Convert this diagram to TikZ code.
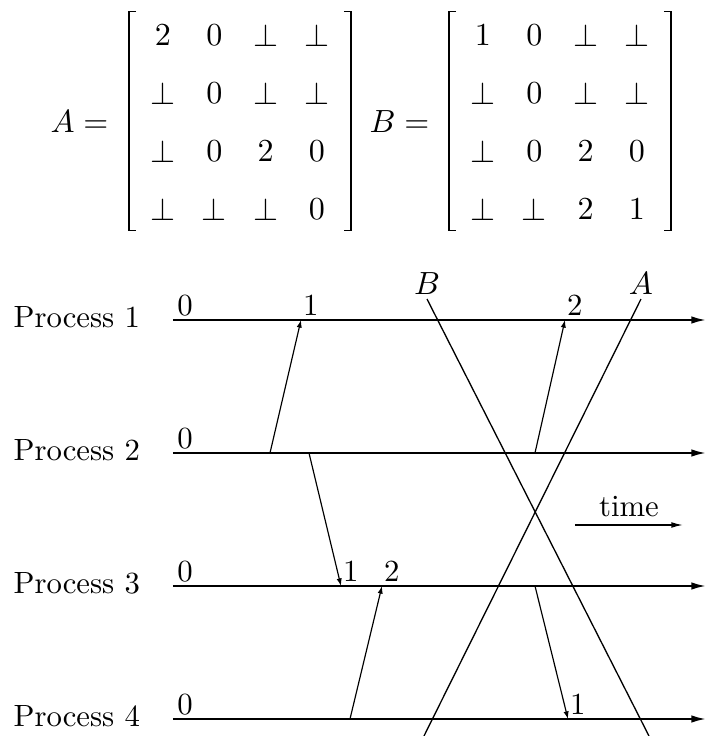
\documentclass[tikz,border=0pt]{standalone}
\usetikzlibrary{matrix,arrows.meta}

\begin{document}
\begin{tikzpicture}[x=1.2mm, y=1.2mm,
    every node/.style={font=\fontsize{10.5}{12.6}\selectfont},
    pline/.style={line width=0.7pt, -{Latex[length=5pt,width=2.6pt]}},
    msg/.style={line width=0.4pt, -{Latex[length=2.6pt,width=1.8pt]}},
    tarr/.style={line width=0.5pt, -{Latex[length=4pt,width=2pt]}},
    cut/.style={line width=0.45pt},
    brk/.style={line width=0.45pt},
    lab/.style={inner xsep=0.5pt, inner ysep=1.2pt},
    proc/.style={anchor=west, inner sep=0pt},
    mat/.style={matrix of math nodes, inner sep=0pt,
      nodes={anchor=center, inner sep=0pt, minimum width=6.16mm, minimum height=6.96mm}}]
  \useasboundingbox (0,0) rectangle (70.7,73.6);

  % the two cuts
  \node[anchor=east, inner sep=0pt] (eqA) at (10.9,61.4) {$A=$};
  \matrix (mA) [mat] at (24.0,61.4) {
    2    & 0    & \bot & \bot \\
    \bot & 0    & \bot & \bot \\
    \bot & 0    & 2    & 0    \\
    \bot & \bot & \bot & 0    \\
  };
  \node[anchor=east, inner sep=0pt] (eqB) at (43.0,61.4) {$B=$};
  \matrix (mB) [mat] at (56.0,61.4) {
    1    & 0    & \bot & \bot \\
    \bot & 0    & \bot & \bot \\
    \bot & 0    & 2    & 0    \\
    \bot & \bot & 2    & 1    \\
  };
  \foreach \m in {mA,mB} {
    \draw[brk] ([shift={(-0.06,-0.6)}]\m.north west) -- ++(-0.7,0) |- ([shift={(-0.06,0.8)}]\m.south west);
    \draw[brk] ([shift={(0.06,-0.6)}]\m.north east) -- ++(0.7,0) |- ([shift={(0.06,0.8)}]\m.south east);
  }

  % process lines
  \foreach \i/\y in {1/41.6, 2/28.3, 3/15.0, 4/1.7} {
    \node[proc] (l\i) at (1.3,\y+0.3) {Process \i};
    \coordinate (s\i) at (17.3,\y);
    \coordinate (e\i) at (70.6,\y);
    \draw[pline] (s\i) -- (e\i);
    \node[lab, above] (z\i) at (18.5,\y) {0};
  }

  % messages
  \coordinate (m1s) at (27.0,28.3); \coordinate (m1r) at (30.1,41.6);
  \coordinate (m2s) at (30.9,28.3); \coordinate (m2r) at (34.1,15.0);
  \coordinate (m3s) at (35.0,1.7);  \coordinate (m3r) at (38.2,15.0);
  \coordinate (m4s) at (53.5,28.3); \coordinate (m4r) at (56.5,41.6);
  \coordinate (m5s) at (53.5,15.0); \coordinate (m5r) at (56.8,1.7);
  \foreach \a/\b in {m1s/m1r, m2s/m2r, m3s/m3r, m4s/m4r, m5s/m5r}
    \draw[msg] (\a) -- (\b);
  \node[lab, above right] (r1) at (m1r) {1};
  \node[lab, above right] (r2) at (m4r) {2};
  \node[lab, above right] (r3) at (m2r) {1};
  \node[lab, above right] (r4) at (m3r) {2};
  \node[lab, above right] (r5) at (m5r) {1};

  % cut lines
  \coordinate (cutBt) at (42.7,43.7); \coordinate (cutBb) at (64.9,0);
  \coordinate (cutAt) at (64.1,43.7); \coordinate (cutAb) at (42.4,0);
  \draw[cut] (cutBt) -- (cutBb);
  \draw[cut] (cutAt) -- (cutAb);
  \node[lab, above] (cb) at (cutBt) {$B$};
  \node[lab, above] (ca) at (cutAt) {$A$};

  % time
  \coordinate (t0) at (57.5,21.1);
  \coordinate (t1) at (68.3,21.1);
  \draw[tarr] (t0) -- (t1) node[midway, above, inner sep=2.4pt] (tl) {time};
\end{tikzpicture}
\end{document}
